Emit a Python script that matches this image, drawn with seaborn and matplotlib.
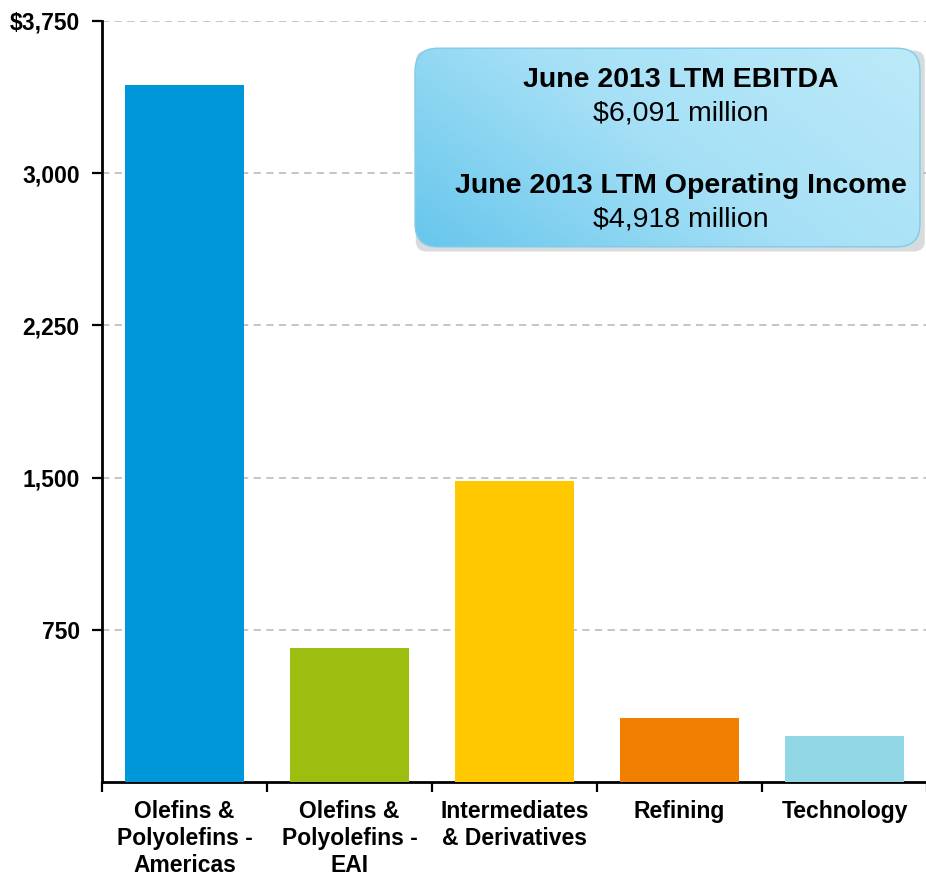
import numpy as np
import pandas as pd
import matplotlib
matplotlib.use("Agg")
import matplotlib.pyplot as plt
from matplotlib.patches import FancyBboxPatch
from matplotlib.colors import LinearSegmentedColormap
import seaborn as sns

# Segment EBITDA, June 2013 LTM ($ millions)
segments = [
    "Olefins &\nPolyolefins -\nAmericas",
    "Olefins &\nPolyolefins -\nEAI",
    "Intermediates\n& Derivatives",
    "Refining",
    "Technology",
]
ebitda = [3435, 658, 1485, 314, 225]
colors = ["#0096DA", "#9BBE10", "#FFC800", "#F28000", "#92D7E6"]
y_ticks = [750, 1500, 2250, 3000, 3750]
y_tick_labels = ["750", "1,500", "2,250", "3,000", "$3,750"]
box_lines = [
    ("June 2013 LTM EBITDA", "bold"),
    ("$6,091 million", "normal"),
    ("June 2013 LTM Operating Income", "bold"),
    ("$4,918 million", "normal"),
]

sns.set_theme(style="white")
plt.rcParams["font.family"] = ["Liberation Sans", "DejaVu Sans"]

df = pd.DataFrame({"segment": segments, "ebitda": ebitda})

fig = plt.figure(figsize=(9.26, 8.76), dpi=100)
ax = fig.add_axes([102 / 926, 94 / 876, 825 / 926, 761 / 876])

sns.barplot(data=df, x="segment", y="ebitda", hue="segment", palette=colors,
            legend=False, width=0.72, saturation=1, linewidth=0, ax=ax, zorder=3)

ax.set_xlim(-0.5, len(segments) - 0.5)
ax.set_ylim(0, 3750)
ax.set_yticks(y_ticks)
ax.set_yticklabels(y_tick_labels, fontsize=16.5, fontweight="bold")
ax.set_xlabel("")
ax.set_ylabel("")

# dashed horizontal gridlines
for v in y_ticks:
    ax.axhline(v, color="#C0C0C0", lw=1.3, ls=(0, (4, 3)), zorder=1)

# spines
for s in ["top", "right"]:
    ax.spines[s].set_visible(False)
for s in ["left", "bottom"]:
    ax.spines[s].set_color("black")
    ax.spines[s].set_linewidth(2)

ax.tick_params(axis="y", which="major", direction="out", length=7, width=1.6,
               color="black", left=True, pad=9, labelcolor="black")

# category labels at bar centres, tick marks at category boundaries
ax.set_xticks(range(len(segments)))
ax.set_xticklabels(segments, fontsize=16.5, fontweight="bold", linespacing=1.23,
                   va="top")
ax.tick_params(axis="x", which="major", length=0, pad=13, labelcolor="black")
ax.set_xticks(np.arange(-0.5, len(segments)), minor=True)
ax.tick_params(axis="x", which="minor", direction="out", length=7, width=1.6,
               color="black", bottom=True)

# summary callout box with a soft gradient fill and drop shadow
bx0, by0, bw, bh = 413 / 926, (876 - 248) / 876, 509 / 926, 201 / 876
shadow = FancyBboxPatch((bx0 + 0.003, by0 - 0.004), bw, bh,
                        boxstyle="round,pad=0,rounding_size=0.012",
                        transform=fig.transFigure, facecolor="#A8B0B4",
                        edgecolor="none", alpha=0.45, zorder=5)
fig.patches.append(shadow)

bax = fig.add_axes([bx0, by0, bw, bh], zorder=6)
bax.set_xlim(0, 1)
bax.set_ylim(0, 1)
bax.axis("off")
bax.patch.set_alpha(0)
gx, gy = np.meshgrid(np.linspace(0, 1, 300), np.linspace(0, 1, 120))
grad = 0.65 * gx + 0.35 * (1 - gy)
cmap = LinearSegmentedColormap.from_list("callout", ["#66C6EC", "#A6E0F6", "#BDEAF9"])
img = bax.imshow(grad, extent=(0, 1, 0, 1), origin="upper", cmap=cmap,
                 aspect="auto", zorder=1)
clip = FancyBboxPatch((0.004, 0.006), 0.992, 0.988,
                      boxstyle="round,pad=0,rounding_size=0.045",
                      transform=bax.transAxes, facecolor="none",
                      edgecolor="#7FCBEA", lw=1.0, zorder=2,
                      mutation_aspect=bw * 926 / (bh * 876))
bax.add_patch(clip)
img.set_clip_path(clip)

text_x = 681 / 926
text_ys = [80, 114, 186, 219]
for (txt, weight), ypix in zip(box_lines, text_ys):
    fig.text(text_x, (876 - ypix) / 876, txt, ha="center", va="center",
             fontsize=20.5, fontweight=weight, color="black", zorder=10)

fig.savefig("out.png", dpi=100)
